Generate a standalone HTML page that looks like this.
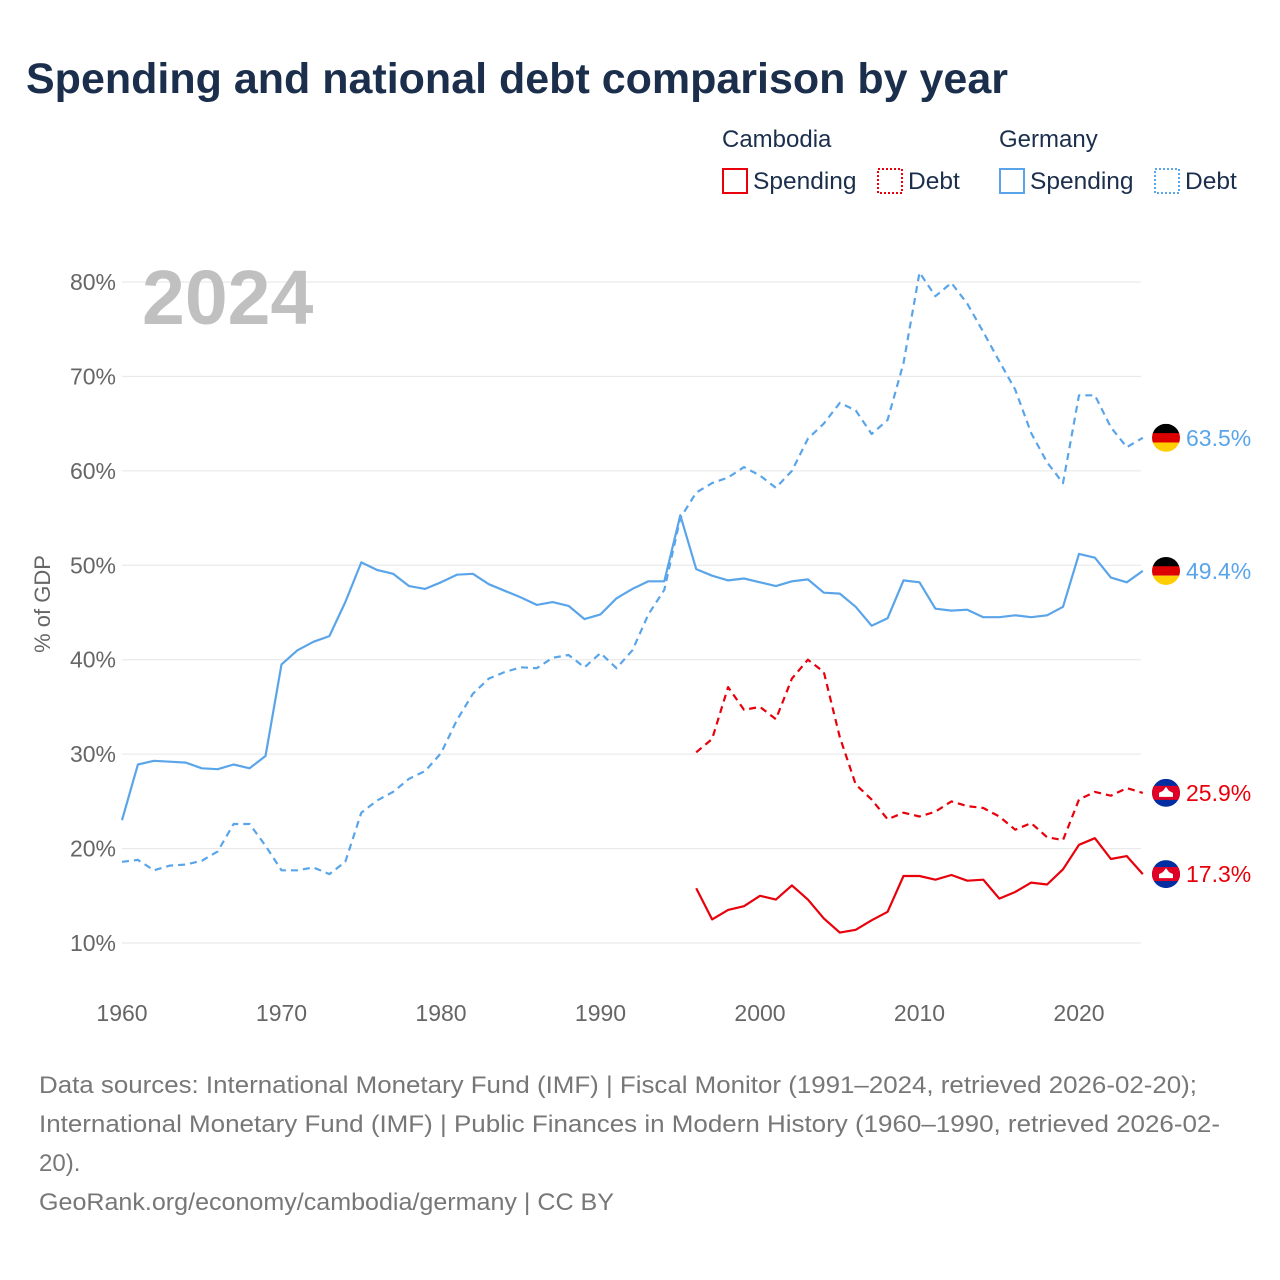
<!DOCTYPE html>
<html><head><meta charset="utf-8">
<style>
body{margin:0;background:#fff;font-family:"Liberation Sans","DejaVu Sans",sans-serif;}
#wrap{position:relative;width:1280px;height:1280px;overflow:hidden;}
</style></head>
<body>
<div id="wrap">
<svg id="chart" width="1280" height="1280"></svg>
</div>
<script>
const years = []; for (let y = 1960; y <= 2024; y++) years.push(y);
const deSpending = [23.0,28.9,29.3,29.2,29.1,28.5,28.4,28.9,28.5,29.8,39.5,41.0,41.9,42.5,46.1,50.3,49.5,49.1,47.8,47.5,48.2,49.0,49.1,48.0,47.3,46.6,45.8,46.1,45.7,44.3,44.8,46.5,47.5,48.3,48.3,55.3,49.6,48.9,48.4,48.6,48.2,47.8,48.3,48.5,47.1,47.0,45.6,43.6,44.4,48.4,48.2,45.4,45.2,45.3,44.5,44.5,44.7,44.5,44.7,45.6,51.2,50.8,48.7,48.2,49.4];
const deDebt = [18.6,18.8,17.7,18.2,18.3,18.7,19.7,22.6,22.6,20.3,17.7,17.7,18.0,17.3,18.6,23.8,25.1,26.0,27.4,28.2,30.1,33.6,36.4,38.0,38.7,39.2,39.1,40.2,40.5,39.2,40.7,39.1,41.0,44.8,47.4,55.0,57.7,58.7,59.3,60.4,59.5,58.2,60.0,63.4,65.0,67.2,66.4,63.9,65.4,71.4,81.0,78.5,79.9,77.7,74.7,71.6,68.6,64.0,60.9,58.7,68.0,68.0,64.6,62.5,63.5];
const khYears = []; for (let y = 1996; y <= 2024; y++) khYears.push(y);
const khSpending = [15.8,12.5,13.5,13.9,15.0,14.6,16.1,14.6,12.6,11.1,11.4,12.4,13.3,17.1,17.1,16.7,17.2,16.6,16.7,14.7,15.4,16.4,16.2,17.8,20.4,21.1,18.9,19.2,17.3];
const khDebt = [30.2,31.6,37.1,34.7,35.0,33.7,38.0,40.0,38.7,31.8,26.8,25.2,23.1,23.8,23.4,23.9,25.0,24.5,24.3,23.4,22.0,22.7,21.2,20.9,25.2,26.0,25.6,26.4,25.9];
const yTicks = [10,20,30,40,50,60,70,80];
const xTicks = [1960,1970,1980,1990,2000,2010,2020];

const NS = "http://www.w3.org/2000/svg";
const svg = document.getElementById('chart');
const X = y => 122 + (y - 1960) * 15.95;
const Y = v => 943 - (v - 10) * 9.443;
function mk(tag, attrs, parent, text){ const e=document.createElementNS(NS,tag); for(const k in attrs) e.setAttribute(k,attrs[k]); if(text!==undefined) e.textContent=text; (parent||svg).appendChild(e); return e; }

let t = mk('text',{x:26,y:93,'font-size':43,'font-weight':'bold',fill:'#1b2f4c'},svg,'Spending and national debt comparison by year');



const lg = mk('g',{});


mk('text',{x:722,y:147,'font-size':24,fill:'#1b2f4c'},lg,'Cambodia');
mk('text',{x:999,y:147,'font-size':24,fill:'#1b2f4c'},lg,'Germany');
const items = [[722,'#e8000b','none','Spending'],[877,'#e8000b','2,2','Debt'],[999,'#5aa5ea','none','Spending'],[1154,'#5aa5ea','2,2','Debt']];
items.forEach(it=>{
  const g = mk('g',{},lg);
  
  
  mk('rect',{x:it[0]+1,y:169,width:24,height:24,fill:'none',stroke:it[1],'stroke-width':2,'stroke-dasharray':it[2]},g);
  mk('text',{x:it[0]+31,y:189,'font-size':24.5,fill:'#1b2f4c'},g,it[3]);
});

yTicks.forEach(v=>{
  const l = mk('line',{x1:122,x2:1141,y1:Y(v),y2:Y(v),stroke:'#e6e6e6','stroke-width':1});
  
  
  const tx = mk('text',{x:116,y:Y(v)+8,'font-size':23,fill:'#666','text-anchor':'end'},svg,v+'%');
  
  
});
xTicks.forEach(v=>{
  const tx = mk('text',{x:X(v),y:1021,'font-size':23,fill:'#666','text-anchor':'middle'},svg,String(v));
  
  
});
const yt = mk('text',{x:0,y:0,'font-size':22,fill:'#666','text-anchor':'middle',transform:'translate(50,604) rotate(-90)'},svg,'% of GDP');



const yr = mk('text',{x:142,y:324,'font-size':77,'font-weight':'bold',fill:'#c0c0c0'},svg,'2024');



function line(xs, vs, color, dash, name){
  const d = vs.map((v,i)=>(i?'L':'M')+X(xs[i]).toFixed(1)+','+Y(v).toFixed(1)).join(' ');
  const p = mk('path',{d:d,fill:'none',stroke:color,'stroke-width':2.2,'stroke-dasharray':dash,'stroke-linejoin':'round'});
  
  
}
line(years, deDebt, '#5aa5ea', '7,5', 'germany-debt-line');
line(years, deSpending, '#5aa5ea', 'none', 'germany-spending-line');
line(khYears, khDebt, '#e8000b', '7,5', 'cambodia-debt-line');
line(khYears, khSpending, '#e8000b', 'none', 'cambodia-spending-line');

function flag(v, country, color, name){
  const cy = Y(v), cx = 1166;
  const g = mk('g',{});
  
  
  const cid = 'c'+Math.round(cy);
  const cp = mk('clipPath',{id:cid},g); mk('circle',{cx:cx,cy:cy,r:14},cp);
  const fg = mk('g',{'clip-path':'url(#'+cid+')'},g);
  if(country==='de'){
    mk('rect',{x:cx-14,y:cy-14,width:28,height:10,fill:'#000'},fg);
    mk('rect',{x:cx-14,y:cy-4.7,width:28,height:9.4,fill:'#dd0000'},fg);
    mk('rect',{x:cx-14,y:cy+4.7,width:28,height:10,fill:'#ffce00'},fg);
  } else {
    mk('rect',{x:cx-14,y:cy-14,width:28,height:28,fill:'#032ea1'},fg);
    mk('rect',{x:cx-14,y:cy-7,width:28,height:14,fill:'#e00025'},fg);
    mk('path',{d:`M${cx-7},${cy+4} L${cx-7},${cy} L${cx-3},${cy-2} L${cx},${cy-6} L${cx+3},${cy-2} L${cx+7},${cy} L${cx+7},${cy+4} Z`,fill:'#fff'},fg);
  }
  mk('text',{x:1186,y:cy+8,'font-size':23,fill:color},g,v.toFixed(1)+'%');
}
flag(deDebt[deDebt.length-1],'de','#5aa5ea','germany-debt-end-label');
flag(deSpending[deSpending.length-1],'de','#5aa5ea','germany-spending-end-label');
flag(khDebt[khDebt.length-1],'kh','#e8000b','cambodia-debt-end-label');
flag(khSpending[khSpending.length-1],'kh','#e8000b','cambodia-spending-end-label');

const foot = ['Data sources: International Monetary Fund (IMF) | Fiscal Monitor (1991–2024, retrieved 2026-02-20);',
 'International Monetary Fund (IMF) | Public Finances in Modern History (1960–1990, retrieved 2026-02-',
 '20).','GeoRank.org/economy/cambodia/germany | CC BY'];
const footW = [1158,1181,0,575];
foot.forEach((s,i)=>{
  const a = {x:39,y:1093+i*39,'font-size':24,fill:'#777'};
  if(footW[i]) { a.textLength = footW[i]; a.lengthAdjust='spacingAndGlyphs'; }
  const f = mk('text',a,svg,s);
  
  
});
</script>
</body></html>
